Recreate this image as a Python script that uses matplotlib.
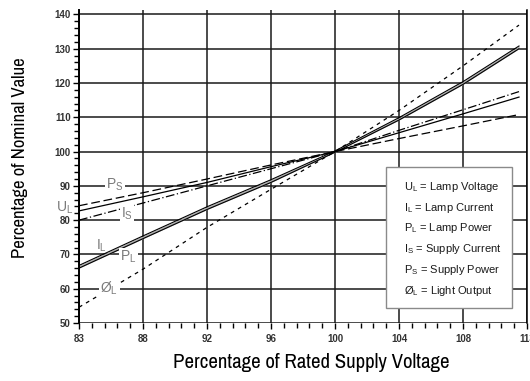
import matplotlib
matplotlib.use("Agg")
import matplotlib.pyplot as plt
from matplotlib.ticker import MultipleLocator

plt.rcParams['font.family'] = ['Liberation Sans', 'DejaVu Sans']
plt.rcParams['mathtext.fontset'] = 'custom'
plt.rcParams['mathtext.rm'] = 'Liberation Sans'
plt.rcParams['mathtext.it'] = 'Liberation Sans'
narrow = ['Archivo Narrow', 'Liberation Sans']

# x positions follow the evenly spaced tick labels of the original chart
x_pos = [84, 88, 92, 96, 100, 104, 108, 111.5]
x_ticks = [84, 88, 92, 96, 100, 104, 108, 112]
x_labels = ['83', '88', '92', '96', '100', '104', '108', '113']
y_ticks = [50, 60, 70, 80, 90, 100, 110, 120, 130, 140]

u_l = [82.7, 86.8, 91.0, 95.6, 100, 105.5, 111.0, 115.9]
i_s = [80.0, 85.0, 90.0, 95.0, 100, 106.2, 112.2, 117.5]
p_s = [84.2, 88.0, 92.0, 96.1, 100, 103.8, 107.5, 110.8]
i_l = [66.8, 75.4, 83.9, 91.8, 100.2, 109.9, 120.4, 130.8]
p_l = [66.0, 74.6, 83.1, 91.0, 99.8, 109.2, 119.6, 130.0]
o_l = [54.6, 65.7, 77.9, 89.0, 100, 112.0, 125.0, 136.9]

legend_lines = [r'U$_\mathrm{L}$ = Lamp Voltage',
                r'I$_\mathrm{L}$ = Lamp Current',
                r'P$_\mathrm{L}$ = Lamp Power',
                r'I$_\mathrm{S}$ = Supply Current',
                r'P$_\mathrm{S}$ = Supply Power',
                r'Ø$_\mathrm{L}$ = Light Output']

fig = plt.figure(figsize=(5.3, 3.81), dpi=100)
ax = fig.add_axes([79 / 530, 1 - 323 / 381, 448 / 530, 313 / 381])
ax.set_xlim(84, 112)
ax.set_ylim(50, 141.3)

ax.set_xticks(x_ticks)
ax.set_xticklabels(x_labels)
ax.set_yticks(y_ticks)
ax.xaxis.set_minor_locator(MultipleLocator(0.8))
ax.yaxis.set_minor_locator(MultipleLocator(2))
ax.tick_params(which='major', direction='out', length=4, width=1, color='black',
               labelsize=7, labelcolor='#333333', pad=2)
ax.tick_params(which='minor', direction='out', length=3.5, width=1, color='black')
for lab in ax.get_xticklabels() + ax.get_yticklabels():
    lab.set_fontweight('bold')
ax.tick_params(axis='x', pad=4)

ax.grid(True, which='major', color='#1a1a1a', lw=1.1, zorder=0)
ax.set_axisbelow(True)
for s in ['top', 'bottom']:
    ax.spines[s].set_visible(False)
ax.spines['left'].set_linewidth(1.4)
ax.spines['right'].set_linewidth(1.1)

lw = 0.9
ax.fill_between(x_pos, p_l, i_l, color='#b0b0b0', lw=0, zorder=2)
ax.plot(x_pos, i_l, color='black', lw=0.8, zorder=3)
ax.plot(x_pos, p_l, color='black', lw=0.8, zorder=3)
ax.plot(x_pos, u_l, color='black', lw=lw, zorder=3)
ax.plot(x_pos, i_s, color='black', lw=lw, ls=(0, (7, 2, 1, 2)), zorder=3)
ax.plot(x_pos, p_s, color='black', lw=lw, ls=(0, (7, 3)), zorder=3)
ax.plot(x_pos, o_l, color='black', lw=lw, ls=(0, (3, 3.5)), zorder=3)

lbl = dict(color='#7a7a7a', fontsize=10, ha='center', va='center', zorder=4,
           bbox=dict(facecolor='white', edgecolor='none', pad=1.0))
ax.text(86.25, 90.2, r'P$_\mathrm{S}$', **lbl)
ax.text(83.1, 83.6, r'U$_\mathrm{L}$', clip_on=False, color='#7a7a7a', fontsize=10,
        ha='center', va='center', zorder=4)
ax.text(87.0, 81.8, r'I$_\mathrm{S}$', **lbl)
ax.text(85.4, 72.6, r'I$_\mathrm{L}$', color='#7a7a7a', fontsize=10,
        ha='center', va='center', zorder=4)
ax.text(87.1, 69.2, r'P$_\mathrm{L}$', **lbl)
ax.text(85.9, 60.0, r'Ø$_\mathrm{L}$', **lbl)

# legend box
box = plt.Rectangle((386 / 530, 1 - 308 / 381), 126 / 530, 141 / 381,
                    transform=fig.transFigure, facecolor='white',
                    edgecolor='#8a8a8a', lw=1.0, zorder=5)
fig.patches.append(box)
for i, t in enumerate(legend_lines):
    fig.text(404 / 530, 1 - (187 + i * 20.7) / 381, t, fontsize=8,
             color='#1a1a1a', ha='left', va='center', zorder=6)

fig.text(20 / 530, 1 - 158 / 381, 'Percentage of Nominal Value', rotation=90,
         fontsize=13.5, ha='center', va='center', family=narrow)
fig.text(311 / 530, 1 - 362 / 381, 'Percentage of Rated Supply Voltage',
         fontsize=15, ha='center', va='center', family=narrow)

fig.savefig('out.png', dpi=100)
